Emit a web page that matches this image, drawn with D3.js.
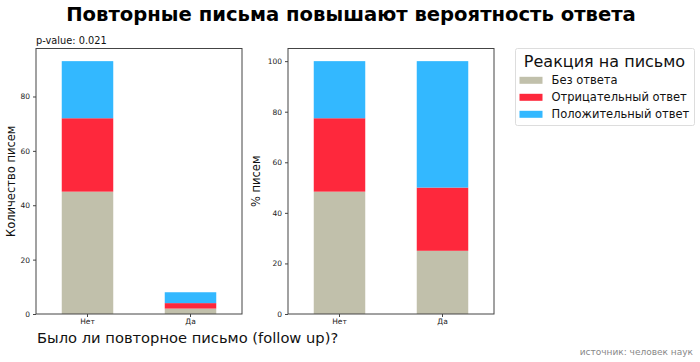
<!DOCTYPE html>
<html><head><meta charset="utf-8">
<script src="https://cdn.jsdelivr.net/npm/d3@7"></script>
<style>body{margin:0;background:#fff}svg{display:block;font-family:"DejaVu Sans",sans-serif}</style>
</head><body><svg id="c" width="700" height="362"></svg>
<script>
const categories = ["Нет", "Да"];
const seriesNames = ["Без ответа", "Отрицательный ответ", "Положительный ответ"];
const noReply = [45, 2];
const negative = [27, 2];
const positive = [21, 4];
const colors = ["#c1c0ab", "#fe283c", "#33b8ff"];
const countTicks = [0, 20, 40, 60, 80];
const pctTicks = [0, 20, 40, 60, 80, 100];

const svg = d3.select("#c");
const series = [noReply, negative, positive];
const rows = categories.map((c, i) => {
  const r = {cat: c};
  seriesNames.forEach((s, k) => r[s] = series[k][i]);
  return r;
});
const totals = categories.map((c, i) => d3.sum(series, s => s[i]));
const pctRows = rows.map((r, i) => {
  const o = {cat: r.cat};
  seriesNames.forEach(s => o[s] = r[s] / totals[i] * 100);
  return o;
});

function panel(x0, data, ticks, label, labelX) {
  const top = 48.5, bottom = 314, w = 206;
  const stack = d3.stack().keys(seriesNames)(data);
  const maxV = d3.max(stack[stack.length - 1], d => d[1]);
  const y = d3.scaleLinear().domain([0, maxV * 1.05]).range([bottom, top]);
  const x = d3.scaleBand().domain(categories).range([x0, x0 + w]).paddingInner(0.5).paddingOuter(0.25);
  const g = svg.append("g");
  stack.forEach((layer, k) => {
    g.selectAll(null).data(layer).enter().append("rect")
      .attr("x", d => x(d.data.cat)).attr("width", x.bandwidth())
      .attr("y", d => y(d[1])).attr("height", d => y(d[0]) - y(d[1]))
      .attr("fill", colors[k]);
  });
  g.append("rect").attr("x", x0).attr("y", top).attr("width", w).attr("height", bottom - top)
    .attr("fill", "none").attr("stroke", "#444").attr("stroke-width", 1);
  const ya = g.append("g").attr("transform", `translate(${x0},0)`)
    .call(d3.axisLeft(y).tickValues(ticks).tickSize(3).tickPadding(3));
  ya.select(".domain").remove();
  ya.selectAll("text").attr("font-size", 7.5).attr("fill", "#222").attr("font-family", "DejaVu Sans");
  ya.selectAll("line").attr("stroke", "#444");
  const xa = g.append("g").attr("transform", `translate(0,${bottom})`)
    .call(d3.axisBottom(x).tickSize(3).tickPadding(2));
  xa.select(".domain").remove();
  xa.selectAll("text").attr("font-size", 7.5).attr("fill", "#222").attr("font-family", "DejaVu Sans");
  xa.selectAll("line").attr("stroke", "#444");
  svg.append("text").attr("transform", `translate(${labelX},${(top + bottom) / 2}) rotate(-90)`)
    .attr("text-anchor", "middle").attr("font-size", 11.5).attr("fill", "#111").text(label);
}

panel(36, rows, countTicks, "Количество писем", 15);
panel(288, pctRows, pctTicks, "% писем", 260);

svg.append("text").attr("x", 351).attr("y", 21).attr("text-anchor", "middle")
  .attr("font-size", 19.6).attr("font-weight", "bold").attr("fill", "#000")
  .text("Повторные письма повышают вероятность ответа");
svg.append("text").attr("x", 36).attr("y", 43.5).attr("font-size", 9.8).attr("fill", "#111")
  .text("p-value: 0.021");
svg.append("text").attr("x", 37).attr("y", 343).attr("font-size", 14.7).attr("fill", "#111")
  .text("Было ли повторное письмо (follow up)?");
svg.append("text").attr("x", 693).attr("y", 355).attr("text-anchor", "end").attr("font-size", 9).attr("fill", "#888")
  .text("источник: человек наук");

// legend
const lg = svg.append("g");
lg.append("rect").attr("x", 515.5).attr("y", 48.5).attr("width", 179).attr("height", 77)
  .attr("rx", 2).attr("fill", "#fff").attr("stroke", "#ddd");
lg.append("text").attr("x", 604.5).attr("y", 67).attr("text-anchor", "middle").attr("font-size", 16)
  .attr("fill", "#111").text("Реакция на письмо");
seriesNames.forEach((s, k) => {
  const yy = 84.3 + k * 17;
  lg.append("rect").attr("x", 519.5).attr("y", yy - 7.5).attr("width", 23).attr("height", 7).attr("fill", colors[k]);
  lg.append("text").attr("x", 551.5).attr("y", yy).attr("font-size", 11.5).attr("fill", "#111").text(s);
});
</script></body></html>
